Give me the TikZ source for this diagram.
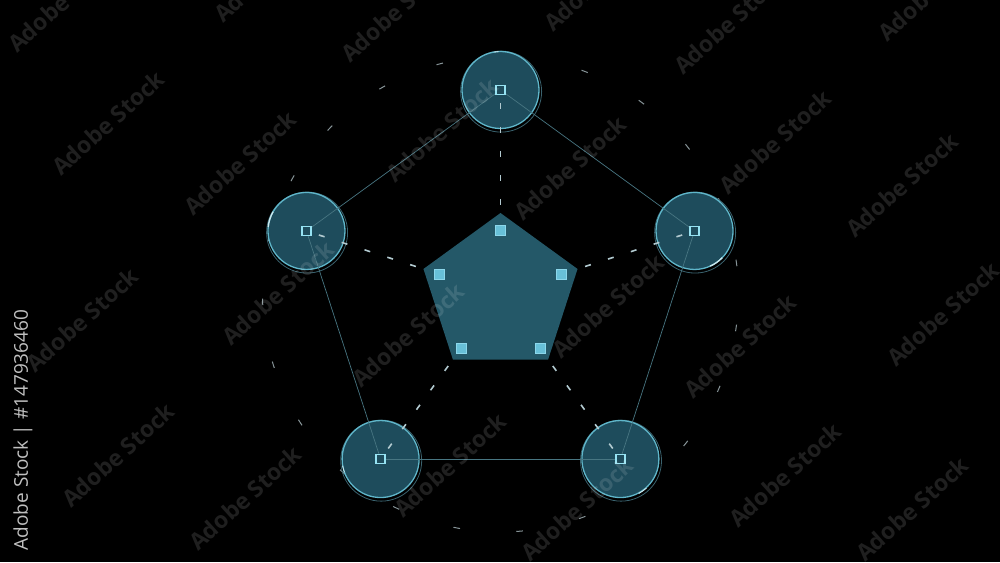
\documentclass[tikz,border=0pt]{standalone}
\usepackage{fontspec}
\newfontfamily\wmfont{Open Sans}
\usetikzlibrary{shapes.geometric}
\definecolor{pentfill}{RGB}{36,88,104}
\definecolor{circfill}{RGB}{30,76,92}
\definecolor{ringcol}{RGB}{95,182,202}
\definecolor{outcol}{RGB}{58,98,110}
\definecolor{hsqcol}{RGB}{150,226,242}
\definecolor{fsqcol}{RGB}{104,192,216}
\definecolor{fsqedge}{RGB}{140,215,235}
\definecolor{dashcol}{RGB}{178,202,208}
\definecolor{linkcol}{RGB}{72,118,130}
\definecolor{rdcol}{RGB}{135,148,152}
\definecolor{hlcol}{RGB}{205,232,238}
\definecolor{vtcol}{RGB}{192,192,192}
\begin{document}
\begin{tikzpicture}[x=1pt,y=1pt,
  pentnode/.style={regular polygon, regular polygon sides=5, minimum size=162pt,
    inner sep=0pt, outer sep=0pt, fill=pentfill},
  circ/.style={circle, minimum size=77pt, inner sep=0pt, outer sep=0pt,
    fill=circfill, draw=ringcol, line width=1.3pt},
  outring/.style={draw=outcol, line width=0.8pt},
  hl/.style={draw=hlcol, line width=1.3pt},
  link/.style={draw=linkcol, line width=0.7pt},
  dline/.style={draw=dashcol, line width=1.6pt, dash pattern=on 6pt off 18pt,
    shorten <=13pt, shorten >=8pt},
  ringdash/.style={draw=rdcol, line width=1pt},
  hsq/.style={rectangle, minimum size=9pt, inner sep=0pt, draw=hsqcol,
    line width=1.8pt, fill=circfill},
  fsq/.style={rectangle, minimum size=10pt, inner sep=0pt, fill=fsqcol,
    draw=fsqedge, line width=0.5pt},
  wm/.style={text=white, text opacity=0.12, inner sep=0pt, rotate=42,
    font=\wmfont\bfseries\fontsize{23}{23}\selectfont},
  vtext/.style={text=vtcol, inner sep=0pt, rotate=90,
    font=\wmfont\fontsize{19}{19}\selectfont}
]
\fill[black] (0,0) rectangle (1000,562);
\useasboundingbox (0,0) rectangle (1000,562);
\coordinate (O) at (500.5,268);

% faint outer dashed ring
\foreach \a in {7.5,22.9,38.2,53.7,69.3,87,104.8,119.8,135.8,150.9,166.4,181.9,
  197.3,212.7,228.4,244,259.4,274.6,290.1,305.6,321.1,336.5,351.8}{
  \pgfmathsetmacro\s{\a-0.8}
  \pgfmathsetmacro\e{\a+0.8}
  \draw[ringdash] ([shift={(\s:238)}]O) arc[start angle=\s, end angle=\e, radius=238];
}

% central pentagon
\node[pentnode] (pent) at (O) {};

% outer circles
\foreach \i/\a in {1/90,2/162,3/234,4/306,5/18}{
  \draw[outring] ([shift={(\a:204)},shift={(0.6,-1.6)}]O) circle[radius=40.5];
  \node[circ] (c\i) at ([shift={(\a:204)}]O) {};
}

% highlights on the rims
\draw[hl] ([shift={(150:38.5)}]c2.center) arc[start angle=150, end angle=174, radius=38.5];
\draw[hl] ([shift={(-66:38.5)}]c5.center) arc[start angle=-66, end angle=-44, radius=38.5];
\draw[hl, line width=0.9pt] ([shift={(-62:39)}]c4.center) arc[start angle=-62, end angle=-48, radius=39];
\draw[hl, line width=0.8pt] ([shift={(190:38.5)}]c3.center) arc[start angle=190, end angle=200, radius=38.5];
\draw[hl, line width=0.8pt] ([shift={(93:38.5)}]c1.center) arc[start angle=93, end angle=100, radius=38.5];

% thin links between the circles
\draw[link] (c1.center) -- (c5.center);
\draw[link] (c5.center) -- (c4.center);
\draw[link] (c4.center) -- (c3.center);
\draw[link] (c3.center) -- (c2.center);
\draw[link] (c2.center) -- (c1.center);

% dashed spokes from the pentagon corners
\foreach \i in {1,...,5}{
  \draw[dline] (c\i.center) -- (pent.corner \i);
}

% hollow squares in the circles
\foreach \i in {1,...,5}{
  \node[hsq] (s\i) at (c\i.center) {};
}

% filled squares inside the pentagon
\foreach \i/\a/\r in {1/90/64,2/162/64,3/234/67,4/306/67,5/18/64}{
  \node[fsq] (q\i) at ([shift={(\a:\r)}]O) {};
}

% vertical credit line
\node[vtext] (credit) at (23,132) {Adobe Stock | \#147936460};

% watermarks
\foreach \x/\y [count=\k] in {64/562,270/592,397/552,600/583,730/540,934/573,
  108/439,240/399,442/432,570/394,775/420,902/377,
  82/242,278/269,408/227,608/256,740/216,943/248,
  118/107,245/64,450/97,577/53,785/87,912/53}{
  \node[wm] (w\k) at (\x,\y) {Adobe Stock};
}
\end{tikzpicture}
\end{document}
